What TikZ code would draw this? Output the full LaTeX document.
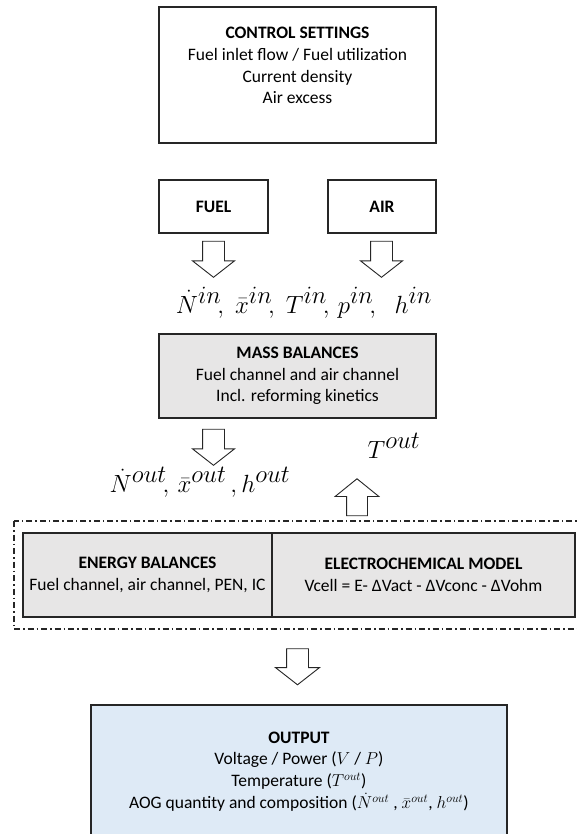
\documentclass[tikz,border=0pt]{standalone}
\usepackage{fontspec}
\setmainfont{Carlito}
\usepackage{tikz}
\usetikzlibrary{positioning,
                shapes.arrows}
\definecolor{balancegray}{HTML}{E7E6E6}
\definecolor{outputblue}{HTML}{DEEAF6}
\definecolor{framedark}{HTML}{262626}

\begin{document}
\begin{tikzpicture}[x=1pt,y=-1pt]

\tikzset{
modelbox/.style={
draw=framedark,
line width=1.1pt,
inner sep=0pt,
outer sep=0pt,
align=center,
font=\fontsize{17.5}{21.7}\selectfont
},
modeltext/.style={
align=center,
font=\fontsize{17.5}{21.7}\selectfont
},
flowarrow/.style={
shape=single arrow,
draw=framedark,
fill=white,
line width=0.9pt,
inner xsep=0pt,
inner ysep=10.5pt,
minimum height=36pt,
single arrow head extend=10pt,
single arrow tip angle=104
},
flowvars/.style={
anchor=base,
font=\fontsize{33}{40}\selectfont
},
dashdotframe/.style={
draw=framedark,
line width=1.1pt,
dash pattern=on 6pt off 3pt on 1.5pt off 3pt
}
}

\useasboundingbox (0,0) rectangle (576,834);

%--------------------------------------------------
% CONTROL SETTINGS
%--------------------------------------------------

\node[modelbox,minimum width=277pt,minimum height=136pt] (control) at (297.5,75) {};
\node[modeltext] (controltext) at (297.5,65.5)
{\textbf{CONTROL SETTINGS}\\Fuel inlet flow / Fuel utilization\\Current density\\Air excess};

%--------------------------------------------------
% FUEL AND AIR
%--------------------------------------------------

\node[modelbox,minimum width=109pt,minimum height=53pt] (fuel) at (213.5,206.5) {\textbf{FUEL}};
\node[modelbox,minimum width=108pt,minimum height=53pt] (air) at (382,206.5) {\textbf{AIR}};

\node[flowarrow,rotate=-90] (fuelarrow) at (213.5,255) {};
\node[flowarrow,rotate=-90] (airarrow) at (381.5,255) {};

\node[flowvars] (invars) at (304,313)
{$\dot{N}^{in}\!,\;\bar{x}^{in}\!,\;T^{in}\!,\,p^{in}\!,\ \;h^{in}$};

%--------------------------------------------------
% MASS BALANCES
%--------------------------------------------------

\node[modelbox,fill=balancegray,minimum width=277pt,minimum height=84pt] (mass) at (297.5,376)
{\textbf{MASS BALANCES}\\Fuel channel and air channel\\Incl. reforming kinetics};

\node[flowarrow,rotate=-90] (massarrow) at (213.5,443) {};

\node[flowvars] (toutvar) at (394,458) {$T^{out}$};
\node[flowvars] (outvars) at (200,492)
{$\dot{N}^{out}\!,\,\bar{x}^{out}\,,h^{out}$};

\node[flowarrow,rotate=90,inner ysep=10pt,single arrow head extend=11.5pt,minimum height=37pt,single arrow tip angle=102] (temparrow) at (357,501.5) {};

%--------------------------------------------------
% ENERGY BALANCES / ELECTROCHEMICAL MODEL
%--------------------------------------------------

\draw[dashdotframe] (14,521) rectangle (590,629);

\node[modelbox,fill=balancegray,minimum width=249pt,minimum height=84pt] (energy) at (147.5,575)
{\textbf{ENERGY BALANCES}\\Fuel channel, air channel, PEN, IC};

\node[modelbox,fill=balancegray,minimum width=303pt,minimum height=84pt] (electro) at (423.5,575)
{\textbf{ELECTROCHEMICAL MODEL}\\Vcell = E- ΔVact - ΔVconc - ΔVohm};

\node[flowarrow,rotate=-90,single arrow head extend=11pt] (outarrow) at (297.5,662.5) {};

%--------------------------------------------------
% OUTPUT
%--------------------------------------------------

\node[modelbox,fill=outputblue,minimum width=416pt,minimum height=135pt] (output) at (299,772.5) {};
\node[modeltext] (outputtext) at (299,771.5)
{\textbf{OUTPUT}\\Voltage / Power ($V$ / $P$)\\Temperature ($T^{out}$)\\AOG quantity and composition ($\dot{N}^{out}$ ,\ $\bar{x}^{out}$,\ $h^{out}$)};

\end{tikzpicture}
\end{document}
